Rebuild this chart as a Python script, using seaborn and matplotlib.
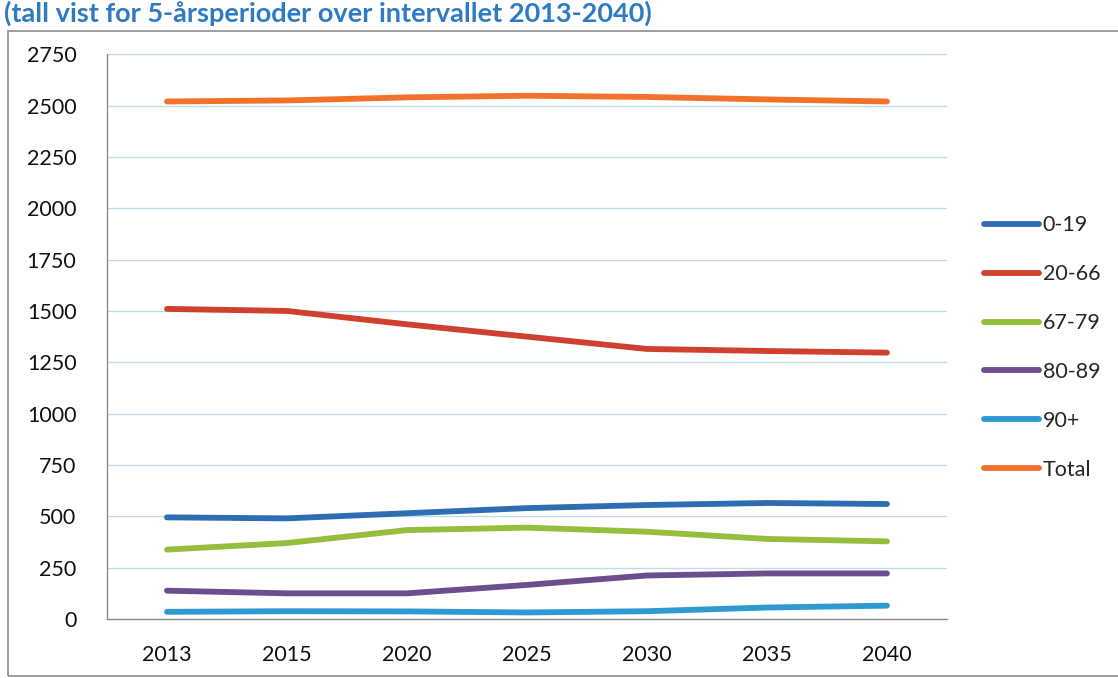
import matplotlib
matplotlib.use("Agg")
import matplotlib.pyplot as plt
import matplotlib.patches as mpatches
from matplotlib.lines import Line2D
import numpy as np
import pandas as pd
import seaborn as sns

# Population by age group, 5-year periods 2013-2040
years = ["2013", "2015", "2020", "2025", "2030", "2035", "2040"]
age_0_19 = [495, 490, 515, 540, 555, 565, 560]
age_20_66 = [1510, 1500, 1435, 1375, 1315, 1305, 1297]
age_67_79 = [338, 370, 433, 445, 425, 390, 378]
age_80_89 = [138, 125, 125, 166, 212, 222, 222]
age_90p = [35, 38, 37, 32, 38, 56, 65]
total = [2520, 2525, 2540, 2548, 2542, 2530, 2520]

series_names = ["0-19", "20-66", "67-79", "80-89", "90+", "Total"]
series_values = [age_0_19, age_20_66, age_67_79, age_80_89, age_90p, total]
colors = ["#2F6DB3", "#D0402F", "#94BE3C", "#6A4E8E", "#2E99D3", "#F2722B"]

y_ticks = list(range(0, 2751, 250))
title_text = "(tall vist for 5-årsperioder over intervallet 2013-2040)"

df = pd.DataFrame({
    "year": np.tile(years, len(series_names)),
    "value": np.concatenate(series_values),
    "group": np.repeat(series_names, len(years)),
})
df["pos"] = df["year"].map({y: i for i, y in enumerate(years)})

sns.set_theme(style="white")
plt.rcParams["font.family"] = ["Lato", "DejaVu Sans"]

fig = plt.figure(figsize=(11.18, 6.78), dpi=100)
ax = fig.add_axes([0.0957, 0.087, 0.7513, 0.833])

sns.lineplot(data=df, x="pos", y="value", hue="group", hue_order=series_names,
             palette=dict(zip(series_names, colors)), linewidth=4.2,
             legend=False, ax=ax, solid_capstyle="round")

ax.set_xlim(-0.5, len(years) - 0.5)
ax.set_ylim(0, 2750)
ax.set_yticks(y_ticks)
ax.set_yticklabels([str(v) for v in y_ticks], fontsize=15.5, color="#111111")
ax.set_xticks(range(len(years)))
ax.set_xticklabels(years, fontsize=15.5, color="#111111")
ax.set_xticks(np.arange(-0.5, len(years), 1.0), minor=True)
ax.tick_params(axis="x", which="major", length=0, pad=19)
ax.tick_params(axis="x", which="minor", length=6, width=1, color="#8A8A8A",
               direction="in")
ax.tick_params(axis="y", length=6, width=1, color="#8A8A8A", direction="out",
               pad=16)
ax.set_xlabel("")
ax.set_ylabel("")

ax.grid(False)
for v in y_ticks[1:]:
    ax.axhline(v, color="#BEDDEC", lw=1.0, zorder=0)

for side in ["top", "right"]:
    ax.spines[side].set_visible(False)
for side in ["left", "bottom"]:
    ax.spines[side].set_color("#8A8A8A")
    ax.spines[side].set_linewidth(1.0)

# Legend on the right
handles = [Line2D([0], [0], color=c, lw=4.2, solid_capstyle="round")
           for c in colors]
fig.legend(handles, series_names, loc="upper left",
           bbox_to_anchor=(0.872, 0.695), frameon=False, fontsize=15.5,
           handlelength=2.6, handletextpad=0.15, labelspacing=1.34,
           borderaxespad=0)

# Chart frame
frame = mpatches.Rectangle((0.007, 0.003), 1.2, 0.951, transform=fig.transFigure,
                           fill=False, edgecolor="#8C8C8C", lw=1.2, zorder=-1)
fig.patches.append(frame)

fig.text(0.004, 1 - 22 / 678, title_text, fontsize=19.5, fontweight="bold",
         color="#2E7BC4", va="baseline", ha="left")

fig.savefig("out.png", dpi=100)
